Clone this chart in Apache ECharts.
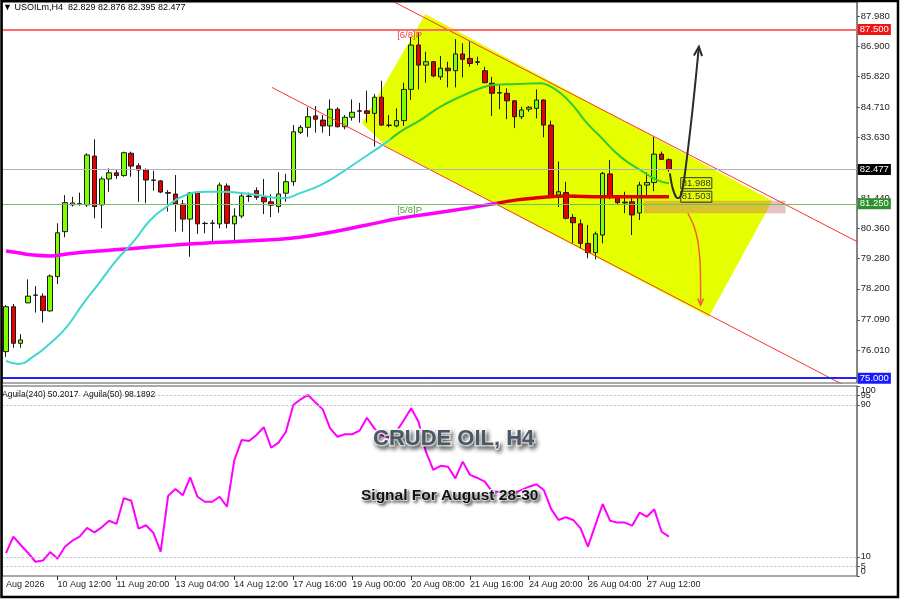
<!DOCTYPE html>
<html><head><meta charset="utf-8">
<script src="https://cdn.jsdelivr.net/npm/echarts@6/dist/echarts.min.js"></script>
<style>html,body{margin:0;padding:0;background:#fff}#c{width:900px;height:599px}</style>
</head><body><div id="c"></div>
<script>
// ---------- data ----------
const barCount = 116; // visible bar slots (91 bars + empty right margin)
const openP = [75.95,77.56,76.25,77.70,77.98,77.94,77.41,78.64,80.25,81.21,
 81.24,81.21,82.96,81.21,82.14,82.36,82.26,83.06,82.61,82.46,
 82.10,82.07,81.65,81.60,81.24,80.70,81.65,80.55,80.55,80.53,
 81.89,80.53,80.81,81.53,81.72,81.48,81.32,81.15,81.63,82.04,
 83.81,83.99,84.40,84.25,84.04,84.64,84.01,84.35,84.58,84.58,
 84.49,85.07,84.07,84.04,84.23,85.35,86.94,86.22,86.34,85.80,
 86.11,86.02,86.62,86.46,86.34,86.02,85.57,85.23,85.21,84.94,
 84.37,84.64,84.67,84.97,84.07,81.56,81.65,80.76,80.53,79.83,
 79.50,80.13,82.32,81.50,81.31,81.32,80.92,81.92,82.01,83.03,
 82.829];
const highP = [77.62,77.66,76.58,78.54,78.30,78.04,78.72,80.55,81.56,81.50,
 81.65,83.06,83.56,82.22,82.52,82.46,83.12,83.12,82.70,82.52,
 82.43,82.10,81.74,82.28,81.39,81.67,81.68,80.61,80.67,82.01,
 81.98,81.09,81.65,81.65,81.84,82.14,81.59,82.38,82.32,84.07,
 84.07,84.71,84.75,84.43,84.99,84.71,84.43,84.99,84.87,85.30,
 85.18,85.66,84.43,84.67,85.59,87.24,87.36,86.70,86.37,86.55,
 86.34,87.15,87.00,87.06,86.52,86.16,85.80,85.54,85.39,84.97,
 84.73,84.75,85.35,84.99,84.23,82.76,82.04,80.88,80.69,80.49,
 80.25,82.39,82.82,81.56,81.68,81.50,82.04,82.38,83.65,83.12,
 82.876];
const lowP = [75.76,76.09,76.09,77.68,77.35,76.99,77.38,78.37,80.05,81.15,
 81.18,81.14,80.73,80.37,81.68,82.14,82.22,82.22,81.32,81.27,
 81.72,81.63,80.97,80.25,80.25,79.35,80.17,80.19,79.89,80.37,
 80.37,79.89,80.73,81.32,81.39,80.88,80.77,80.93,81.32,81.89,
 83.75,83.65,83.80,83.80,83.68,83.99,83.92,84.23,84.16,84.16,
 83.30,84.05,83.99,83.99,84.04,84.97,85.35,85.59,85.79,85.69,
 85.42,85.42,85.78,86.16,86.22,85.57,84.40,84.64,84.28,83.96,
 84.28,84.55,84.31,83.63,81.46,81.13,80.69,79.83,79.65,79.30,
 79.26,79.83,81.41,81.21,80.91,80.13,80.67,81.55,81.70,82.82,
 82.395];
const closeP = [77.56,76.25,76.37,77.94,77.97,77.42,78.66,80.21,81.29,81.28,
 81.25,83.00,81.15,82.14,82.36,82.26,83.08,82.60,82.46,82.10,
 82.09,81.67,81.63,81.24,80.70,81.63,80.53,80.54,80.56,81.92,
 80.55,80.81,81.53,81.51,81.48,81.32,81.20,81.60,82.04,83.83,
 83.99,84.37,84.28,84.04,84.64,84.01,84.35,84.53,84.57,84.49,
 85.07,84.07,84.06,84.23,85.35,86.94,86.22,86.34,85.83,86.11,
 86.02,86.62,86.43,86.28,86.32,85.59,85.21,85.22,84.94,84.37,
 84.61,84.71,84.97,84.07,81.50,81.68,80.73,80.57,79.83,79.50,
 80.17,82.34,81.50,81.29,81.28,80.85,81.92,82.01,83.03,82.84,
 82.477];
// oscillator (Aguila) per bar
const aguila = [12.0,20.7,16.3,12.1,7.5,8.1,12.6,9.1,15.4,18.6,
 20.7,25.3,23.0,25.6,29.1,27.4,41.0,39.6,24.9,26.7,
 22.8,12.8,42.1,45.8,42.5,51.9,41.7,39.1,39.1,41.7,
 36.5,61.0,71.6,71.0,74.2,78.3,67.5,70.2,75.9,90.0,
 93.0,95.3,91.4,87.7,77.7,73.3,74.6,74.6,76.5,83.3,
 77.7,74.0,73.0,76.0,82.0,88.3,81.2,65.4,55.8,58.0,
 57.5,51.4,60.2,53.2,51.6,49.7,44.4,44.4,44.0,43.7,
 45.3,47.0,48.3,45.3,35.3,29.5,30.9,29.5,25.1,15.4,
 26.8,37.9,29.1,28.1,28.1,26.5,33.3,31.2,35.1,23.3,
 20.7];
// moving averages read as [bar index, price]
const fastMA = [[0,75.62],[1.67,75.51],[3.7,75.77],[6.0,76.25],[8.25,76.84],[10.5,77.68],[12.8,78.46],[15.0,79.23],[17.3,79.89],[19.6,80.67],[21.8,81.14],[24.1,81.53],[27.3,81.68],[29.1,81.68],[33.2,81.60],[37.7,81.45],[39.9,81.63],[42.7,81.92],[45.4,82.34],[48.1,82.82],[50.8,83.30],[52.2,83.56],[53.5,83.83],[56.25,84.25],[59.0,84.73],[61.7,85.09],[64.4,85.39],[66.2,85.51],[69.4,85.54],[72.6,85.57],[73.5,85.51],[75.3,85.21],[77.1,84.73],[78.9,84.13],[80.7,83.65],[83.4,82.94],[86.1,82.46],[88.4,82.10],[90,81.988]];
const slowMA = [[0,79.56],[1.45,79.50],[3.7,79.41],[6.0,79.38],[8.25,79.45],[12.8,79.56],[17.3,79.65],[21.8,79.75],[26.4,79.83],[30.9,79.89],[35.4,79.95],[39.9,80.05],[44.5,80.25],[49.0,80.49],[53.5,80.73],[58.1,80.91],[62.6,81.09],[65.3,81.21],[66.7,81.27],[69.4,81.39],[71.6,81.45],[73.9,81.50],[76.2,81.53],[80.7,81.50],[85.2,81.50],[90,81.503]];
const fastSwitch = 52.2, slowSwitch = 66.7;
// drawn objects, in [bar index, price]
const channelUpper = [[50,88.85],[116,79.83]];
const channelLower = [[36.1,85.42],[116,74.44]];
const yellowZone = [[56.93,88.05],[48.33,84.14],[51.63,83.30],[95.42,77.20],[104.03,81.36]];
const pinkZone = [[86.59,81.36],[105.84,80.91]];
const upPath = [[90.12,82.34],[90.49,81.82],[91.03,81.47],[91.51,81.49],[91.98,81.99],[92.84,83.78],[93.48,85.33],[94.06,86.88]];
const downPath = [[92.57,80.91],[93.34,80.48],[93.89,79.95],[94.22,79.16],[94.29,78.34],[94.29,77.62]];
const levelTagText = ['[6/8]P','[5/8]P'];
const levelTagAt = [[53.1,87.28],[53.1,81.03]];
const maTagText = ['81.988','81.503'];
const maTagAt = [[91.6,81.988],[91.6,81.503]];
const levelPrices = [87.5, 82.477, 81.25, 75.0];
// axes
const priceTicks = [76.01,77.09,78.20,79.28,80.36,81.44,83.63,84.71,85.82,86.90,87.98];
const oscTicks = [0,10,90,100];
const oscTicksInner = [5,95];
const oscLevels = [5,10,90,95];
const timeLabelIdx = [0,7,15,23,31,39,47,55,63,71,79,87];
const timeLabelText = ['Aug 2026','10 Aug 12:00','11 Aug 20:00','13 Aug 04:00','14 Aug 12:00','17 Aug 16:00','19 Aug 00:00','20 Aug 08:00','21 Aug 16:00','24 Aug 20:00','26 Aug 04:00','27 Aug 12:00'];

// ---------- chart ----------
const FONT = 'Liberation Sans, Arial, sans-serif';
const cats = Array.from({length: barCount}, (_, i) => String(i));
const candles = openP.map((o, i) => [o, closeP[i], lowP[i], highP[i]]);
const GL = 2.317, GW = 854.5;

const levelStyles = [
  {line:{color:'#ff6a6a', width:2, type:'solid'}, bg:'#f01515'},
  {line:{color:'#a9b3c1', width:1, type:'solid'}, bg:'#000000'},
  {line:{color:'#72c062', width:1, type:'solid'}, bg:'#2f8f2f'},
  {line:{color:'#2020ff', width:2, type:'solid'}, bg:'#1a1aff'}
];

function polyItem(points, fill) {
  return function (params, api) {
    return {type:'polygon', shape:{points: points.map(p => api.coord(p))}, style:{fill: fill}};
  };
}
function rectItem(corners, fill) {
  return function (params, api) {
    const a = corners[0], b = corners[1];
    const pts = [[a[0],a[1]],[b[0],a[1]],[b[0],b[1]],[a[0],b[1]]].map(p => api.coord(p));
    return {type:'polygon', shape:{points: pts}, style:{fill: fill}};
  };
}
function arrowItem(points, color, width, head) {
  return function (params, api) {
    const pts = points.map(p => api.coord(p));
    const n = pts.length, tip = pts[n-1], prev = pts[n-2];
    const ang = Math.atan2(tip[1]-prev[1], tip[0]-prev[0]);
    const h1 = [tip[0] + head*Math.cos(ang+Math.PI-0.42), tip[1] + head*Math.sin(ang+Math.PI-0.42)];
    const h2 = [tip[0] + head*Math.cos(ang+Math.PI+0.42), tip[1] + head*Math.sin(ang+Math.PI+0.42)];
    return {type:'group', children:[
      {type:'polyline', shape:{points: pts, smooth: 0.3}, style:{stroke: color, lineWidth: width, fill: null}},
      {type:'polyline', shape:{points:[h1, tip, h2]}, style:{stroke: color, lineWidth: width, fill: null}}
    ]};
  };
}

const chart = echarts.init(document.getElementById('c'), null, {renderer:'canvas'});
const labelShow = (idx) => timeLabelIdx.indexOf(idx) >= 0;
const oscAxisBase = {type:'value', gridIndex:1, position:'right', min:0, max:100, splitLine:{show:false}};

chart.setOption({
  animation: false,
  backgroundColor: '#ffffff',
  grid: [
    {left: GL, width: GW, top: 2, height: 381, show: true, borderColor: '#555', borderWidth: 1, backgroundColor: 'transparent'},
    {left: GL, width: GW, top: 386, height: 190, show: true, borderColor: '#555', borderWidth: 1, backgroundColor: 'transparent'}
  ],
  xAxis: [
    {type:'category', gridIndex:0, data: cats, boundaryGap: true, show: false},
    {type:'value', gridIndex:0, min: -0.5, max: barCount - 0.5, show: false},
    {type:'category', gridIndex:1, data: cats, boundaryGap: true,
      axisLine:{show:false},
      axisTick:{show:true, alignWithLabel:true, length:4, interval:(i)=> i>0 && labelShow(i), lineStyle:{color:'#333'}},
      axisLabel:{show:true, interval:(i)=>labelShow(i), formatter:(v,i)=>timeLabelText[timeLabelIdx.indexOf(Number(v))] || '',
        align:'left', margin:4, fontSize:9, color:'#222', fontFamily: FONT},
      splitLine:{show:false}}
  ],
  yAxis: [
    {type:'value', gridIndex:0, position:'right', min: 74.826, max: 88.482,
      axisLine:{show:true, onZero:false, lineStyle:{color:'#808080'}},
      axisTick:{show:true, customValues: priceTicks, length:3, lineStyle:{color:'#555'}},
      axisLabel:{show:true, customValues: priceTicks, formatter:(v)=>Number(v).toFixed(3), fontSize:9.5, color:'#222', margin:4, fontFamily: FONT},
      splitLine:{show:false}},
    Object.assign({}, oscAxisBase, {
      axisLine:{show:true, onZero:false, lineStyle:{color:'#808080'}},
      axisTick:{show:true, customValues: oscTicks, length:3, lineStyle:{color:'#555'}},
      axisLabel:{show:true, customValues: oscTicks, showMinLabel:true, showMaxLabel:true, fontSize:9, color:'#222', margin:4, fontFamily: FONT,
        verticalAlignMinLabel:'bottom', verticalAlignMaxLabel:'top'}}),
    Object.assign({}, oscAxisBase, {
      axisLine:{show:false, onZero:false},
      axisTick:{show:true, customValues: oscTicksInner, length:3, lineStyle:{color:'#555'}},
      axisLabel:{show:true, customValues: oscTicksInner, showMinLabel:true, showMaxLabel:true, fontSize:9, color:'#222', margin:4, fontFamily: FONT}})
  ],
  title: [
    {text:'CRUDE OIL, H4', left:373, top:428, padding:0,
      textStyle:{fontFamily: FONT, fontSize:22, fontWeight:'bold', color:'#4b5967', textBorderColor:'#ffffff', textBorderWidth:3,
        textShadowColor:'rgba(0,0,0,0.45)', textShadowBlur:4, textShadowOffsetX:2, textShadowOffsetY:3}},
    {text:'Signal For August 28-30', left:361, top:488, padding:0,
      textStyle:{fontFamily: FONT, fontSize:15.5, fontWeight:'bold', color:'#111111', textBorderColor:'#ffffff', textBorderWidth:2,
        textShadowColor:'rgba(0,0,0,0.4)', textShadowBlur:3, textShadowOffsetX:2, textShadowOffsetY:2}}
  ],
  graphic: [
    {type:'text', left:3, top:3, z:10, style:{text:'\u25BC USOILm,H4  82.829 82.876 82.395 82.477', font:'9px ' + FONT, fill:'#000'}},
    {type:'text', left:2, top:390, z:10, style:{text:'Aguila(240) 50.2017  Aguila(50) 98.1892', font:'8.5px ' + FONT, fill:'#111'}},
    {type:'rect', z:20, silent:true, shape:{x:1.5, y:1, width:896.5, height:596}, style:{fill:null, stroke:'#000', lineWidth:2.5}}
  ],
  series: [
    {type:'custom', name:'zone', xAxisIndex:1, yAxisIndex:0, z:1, silent:true, clip:true,
      data:[yellowZone[0]], renderItem: polyItem(yellowZone, '#e5ff00')},
    {type:'custom', name:'box', xAxisIndex:1, yAxisIndex:0, z:1, silent:true, clip:true,
      data:[pinkZone[0]], renderItem: rectItem(pinkZone, 'rgba(200,110,110,0.42)')},
    {type:'line', name:'chanUp', xAxisIndex:1, yAxisIndex:0, data: channelUpper, symbol:'none', silent:true, clip:true,
      lineStyle:{color:'#ff3030', width:1}},
    {type:'line', name:'chanDn', xAxisIndex:1, yAxisIndex:0, data: channelLower, symbol:'none', silent:true, clip:true,
      lineStyle:{color:'#ff3030', width:1}},
    {type:'candlestick', name:'USOILm', xAxisIndex:0, yAxisIndex:0, data: candles, barWidth:5,
      itemStyle:{color:'#80ff00', color0:'#e60000', borderColor:'#1a1a1a', borderColor0:'#1a1a1a', borderWidth:1},
      markLine:{symbol:'none', silent:true, animation:false,
        data: levelPrices.map((v, k) => ({yAxis: v, lineStyle: levelStyles[k].line,
          label:{show:true, position:'end', distance:1, formatter:()=>v.toFixed(3), color:'#fff',
            backgroundColor: levelStyles[k].bg, padding:[1,2,0,2], fontSize:9.5, fontFamily: FONT}}))}},
    {type:'line', name:'slowA', xAxisIndex:1, yAxisIndex:0, data: slowMA.filter(p=>p[0]<=slowSwitch), symbol:'none', smooth:true, silent:true,
      lineStyle:{color:'#ff00ff', width:3.5}},
    {type:'line', name:'slowB', xAxisIndex:1, yAxisIndex:0, data: slowMA.filter(p=>p[0]>=slowSwitch), symbol:'none', smooth:true, silent:true,
      lineStyle:{color:'#e00000', width:3.5}},
    {type:'line', name:'fastA', xAxisIndex:1, yAxisIndex:0, data: fastMA.filter(p=>p[0]<=fastSwitch), symbol:'none', smooth:true, silent:true,
      lineStyle:{color:'#40d8cc', width:2}},
    {type:'line', name:'fastB', xAxisIndex:1, yAxisIndex:0, data: fastMA.filter(p=>p[0]>=fastSwitch), symbol:'none', smooth:true, silent:true,
      lineStyle:{color:'#33c933', width:2}},
    {type:'custom', name:'levelTags', xAxisIndex:1, yAxisIndex:0, z:4, silent:true, data: levelTagAt,
      renderItem:(params, api) => {
        const c = api.coord([api.value(0), api.value(1)]);
        return {type:'text', x:c[0], y:c[1], style:{text: levelTagText[params.dataIndex], fill: params.dataIndex === 0 ? '#ee4444' : '#4a9e3c',
          font:'9.5px ' + FONT, align:'left', verticalAlign:'middle'}};
      }},
    {type:'custom', name:'maTags', xAxisIndex:1, yAxisIndex:0, z:4, silent:true, data: maTagAt,
      renderItem:(params, api) => {
        const c = api.coord([api.value(0), api.value(1)]);
        return {type:'text', x:c[0], y:c[1], style:{text: maTagText[params.dataIndex], fill:'#333',
          font:'9.5px ' + FONT, align:'left', verticalAlign:'middle', borderColor:'#333', borderWidth:1, padding:[1,1,0,1]}};
      }},
    {type:'custom', name:'up', xAxisIndex:1, yAxisIndex:0, z:5, silent:true, data:[upPath[0]],
      renderItem: arrowItem(upPath, '#2b2b2b', 2, 10)},
    {type:'custom', name:'down', xAxisIndex:1, yAxisIndex:0, z:5, silent:true, data:[downPath[0]],
      renderItem: arrowItem(downPath, '#f0603a', 1.5, 7)},
    {type:'line', name:'Aguila', xAxisIndex:2, yAxisIndex:1, data: aguila, symbol:'none', silent:true,
      lineStyle:{color:'#ff00ff', width:2},
      markLine:{symbol:'none', silent:true, animation:false, label:{show:false},
        lineStyle:{color:'#bdbdbd', type:[2,2], width:1},
        data: oscLevels.map(v => ({yAxis: v}))}}
  ]
});
</script>
</body></html>
